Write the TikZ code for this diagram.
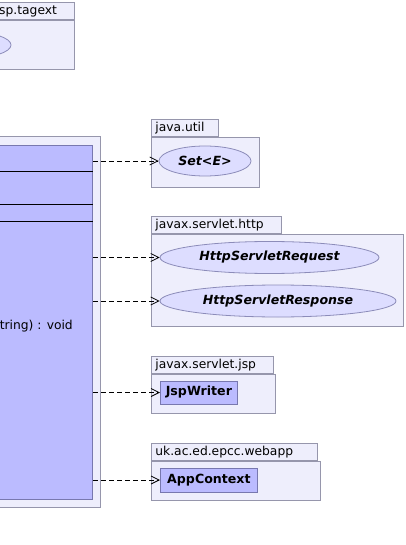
\documentclass[tikz,border=0pt]{standalone}
\usepackage{fontspec}
\setmainfont{DejaVu Sans}
\usetikzlibrary{arrows.meta,positioning,shapes.geometric}
\definecolor{pkgfill}{RGB}{238,238,252}
\definecolor{pkgline}{RGB}{150,150,172}
\definecolor{ellfill}{RGB}{221,221,255}
\definecolor{ellline}{RGB}{140,140,185}
\definecolor{clsfill}{RGB}{187,187,255}
\definecolor{clsline}{RGB}{120,120,175}

\begin{document}
\begin{tikzpicture}[>=Stealth,x=1pt,y=-1pt,font=\fontsize{12.3}{14}\selectfont,
 pkg/.style={draw=pkgline,fill=pkgfill,line width=0.8pt,anchor=north west,inner sep=0pt},
 tab/.style={pkg,inner xsep=4pt,align=left,minimum height=17pt},
 ell/.style={ellipse,draw=ellline,fill=ellfill,line width=0.8pt,inner sep=0pt,font=\fontsize{12.6}{14}\selectfont\bfseries\itshape},
 cbox/.style={draw=clsline,fill=clsfill,line width=0.8pt,inner sep=0pt,anchor=west,font=\fontsize{12.6}{14}\selectfont\bfseries},
 dep/.style={line width=0.8pt,dash pattern=on 5pt off 3pt,-{Straight Barb[length=8pt,width=8pt]}}]
\useasboundingbox (0,0) rectangle (406,545);
\clip (0,0) rectangle (406,545);
% package cut at the left edge
\node[tab,minimum width=134pt] (tagtab) at (-60,2) {};
\node[anchor=west,inner sep=0pt] (tagname) at (-1,11) {sp.tagext};
\node[pkg,minimum width=134pt,minimum height=49pt] (tagbody) at (tagtab.south west) {};
\node[ell,minimum width=82pt,minimum height=26pt] (tagell) at (-30,45) {};
% the class itself
\node[pkg,anchor=north east,minimum width=170pt,minimum height=371pt] (clsouter) at (101,136) {};
\node[draw=clsline,fill=clsfill,line width=0.8pt,anchor=north east,minimum width=160pt,minimum height=354pt] (cls) at (93,145) {};
\draw[line width=0.8pt] (cls.west |- 0,171) -- (cls.east |- 0,171);
\draw[line width=0.8pt] (cls.west |- 0,204) -- (cls.east |- 0,204);
\draw[line width=0.8pt] (cls.west |- 0,221) -- (cls.east |- 0,221);
\node[anchor=east,inner sep=0pt] (op) at (73,326) {tring) : void};
% java.util
\node[tab,text width=59pt] (utiltab) at (151,119) {java.util};
\node[pkg,minimum width=108pt,minimum height=50pt] (utilbody) at (utiltab.south west) {};
\node[ell,minimum width=92pt,minimum height=30pt] (set) at (205,161) {Set<E>};
% javax.servlet.http
\node[tab,text width=122pt] (httptab) at (151,216) {javax.servlet.http};
\node[pkg,minimum width=252pt,minimum height=92pt] (httpbody) at (httptab.south west) {};
\node[ell,minimum width=219pt,minimum height=32pt] (req) at (269.5,257.5) {HttpServletRequest};
\node[ell,minimum width=236pt,minimum height=32pt] (resp) at (278,301) {HttpServletResponse};
% javax.servlet.jsp
\node[tab,text width=114pt] (jsptab) at (151,356) {javax.servlet.jsp};
\node[pkg,minimum width=124pt,minimum height=39pt] (jspbody) at (jsptab.south west) {};
\node[cbox,minimum width=77pt,minimum height=23pt] (writer) at (160,392.5) {JspWriter};
% uk.ac.ed.epcc.webapp
\node[tab,text width=158pt] (apptab) at (151,443) {uk.ac.ed.epcc.webapp};
\node[pkg,minimum width=169pt,minimum height=39pt] (appbody) at (apptab.south west) {};
\node[cbox,minimum width=97pt,minimum height=24pt] (ctx) at (160,480) {AppContext};
% dependencies
\draw[dep] (cls.east |- set.west) -- (set.west);
\draw[dep] (cls.east |- req.west) -- (req.west);
\draw[dep] (cls.east |- resp.west) -- (resp.west);
\draw[dep] (cls.east |- writer.west) -- (writer.west);
\draw[dep] (cls.east |- ctx.west) -- (ctx.west);
\end{tikzpicture}
\end{document}
